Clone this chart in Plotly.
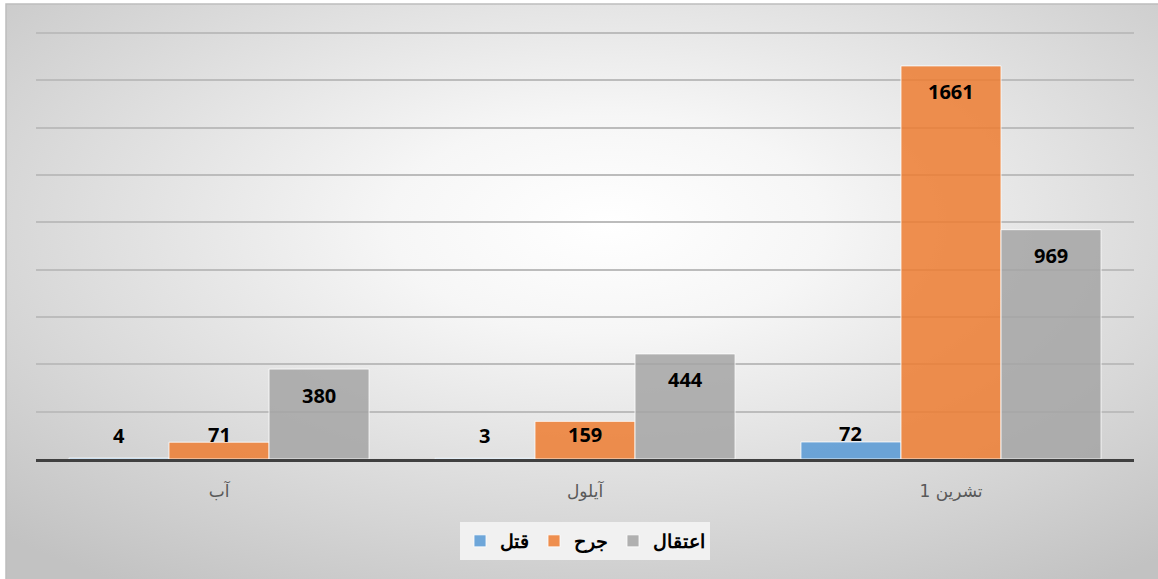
import base64
import plotly.graph_objects as go

categories = ["آب", "آيلول", "تشرين 1"]
series_names = ["قتل", "جرح", "اعتقال"]
killed = [4, 3, 72]
wounded = [71, 159, 1661]
arrested = [380, 444, 969]
series_values = [killed, wounded, arrested]
colors = ["rgba(91,155,213,0.88)", "rgba(237,125,49,0.85)", "rgba(165,165,165,0.85)"]

W, H = 1158, 579
L, R, T, B = 36, 24, 29, 120
pw, ph = W - L - R, H - T - B
YMAX = 1817
BARGAP = 0.18
px_per_unit = ph / YMAX
bar_px_w = pw / len(categories) * (1 - BARGAP) / len(series_names)

def px_x(x):
    return (x - L) / pw

def px_y(y):
    return (H - B - y) / ph

svg = (
    '<svg xmlns="http://www.w3.org/2000/svg" width="1000" height="500" preserveAspectRatio="none">'
    '<defs><radialGradient id="g" cx="0.52" cy="0.38" r="0.75">'
    '<stop offset="0" stop-color="#ffffff"/>'
    '<stop offset="0.25" stop-color="#f6f6f6"/>'
    '<stop offset="1" stop-color="#c2c2c2"/>'
    '</radialGradient></defs>'
    '<rect width="1000" height="500" fill="url(#g)"/></svg>'
)
bg_src = "data:image/svg+xml;base64," + base64.b64encode(svg.encode()).decode()

fig = go.Figure()
annotations = []
n = len(series_names)
for si, (name, vals, col) in enumerate(zip(series_names, series_values, colors)):
    fig.add_trace(go.Bar(
        x=categories, y=vals, name=name,
        marker=dict(color=col, line=dict(color="rgba(255,255,255,0.8)", width=1)),
        hoverinfo="x+y+name",
    ))
    for cat, v in zip(categories, vals):
        bar_px = v * px_per_unit
        if bar_px > 30:
            yshift = -min(26, bar_px * 0.35)
        else:
            yshift = max(8, 23 - bar_px)
        annotations.append(dict(
            x=cat, y=v, xref="x", yref="y", text=str(v), showarrow=False,
            xshift=(si - (n - 1) / 2) * bar_px_w, yshift=yshift,
            yanchor="middle", xanchor="center",
            font=dict(family="Open Sans", size=20, color="black", weight="bold"),
        ))

x0, x1 = px_x(6), px_x(W + 4)
y0, y1 = px_y(H + 4), px_y(4)

fig.update_layout(
    width=W, height=H,
    margin=dict(l=L, r=R, t=T, b=B, pad=0),
    paper_bgcolor="white",
    plot_bgcolor="rgba(0,0,0,0)",
    barmode="group", bargap=BARGAP, bargroupgap=0,
    showlegend=True,
    legend=dict(
        orientation="h", x=0.5, xanchor="center", y=px_y(541), yanchor="middle",
        bgcolor="#f1f1f1", font=dict(family="Liberation Sans", size=19, color="black", weight="bold"),
        itemwidth=30, traceorder="normal", borderwidth=0,
    ),
    annotations=annotations,
    images=[dict(
        source=bg_src, xref="paper", yref="paper",
        x=x0, y=y1, sizex=x1 - x0, sizey=y1 - y0,
        xanchor="left", yanchor="top", sizing="stretch", layer="below",
    )],
    shapes=[dict(
        type="rect", xref="paper", yref="paper",
        x0=x0, x1=x1, y0=y0, y1=y1,
        line=dict(color="#bdbdbd", width=1.5), fillcolor="rgba(0,0,0,0)", layer="below",
    )],
    xaxis=dict(
        showline=True, linecolor="#404040", linewidth=3,
        ticks="", ticklabelstandoff=15,
        tickfont=dict(family="DejaVu Sans", size=17, color="#595959"),
        showgrid=False,
    ),
    yaxis=dict(
        range=[0, YMAX], dtick=200, showticklabels=False,
        showgrid=True, gridcolor="#bcbcbc", gridwidth=1.5,
        zeroline=False, showline=False, ticks="",
    ),
)

fig.write_html(
    "out.html",
    config={"displayModeBar": False},
    post_script="document.body.style.margin='0';document.body.style.overflow='hidden';",
)
